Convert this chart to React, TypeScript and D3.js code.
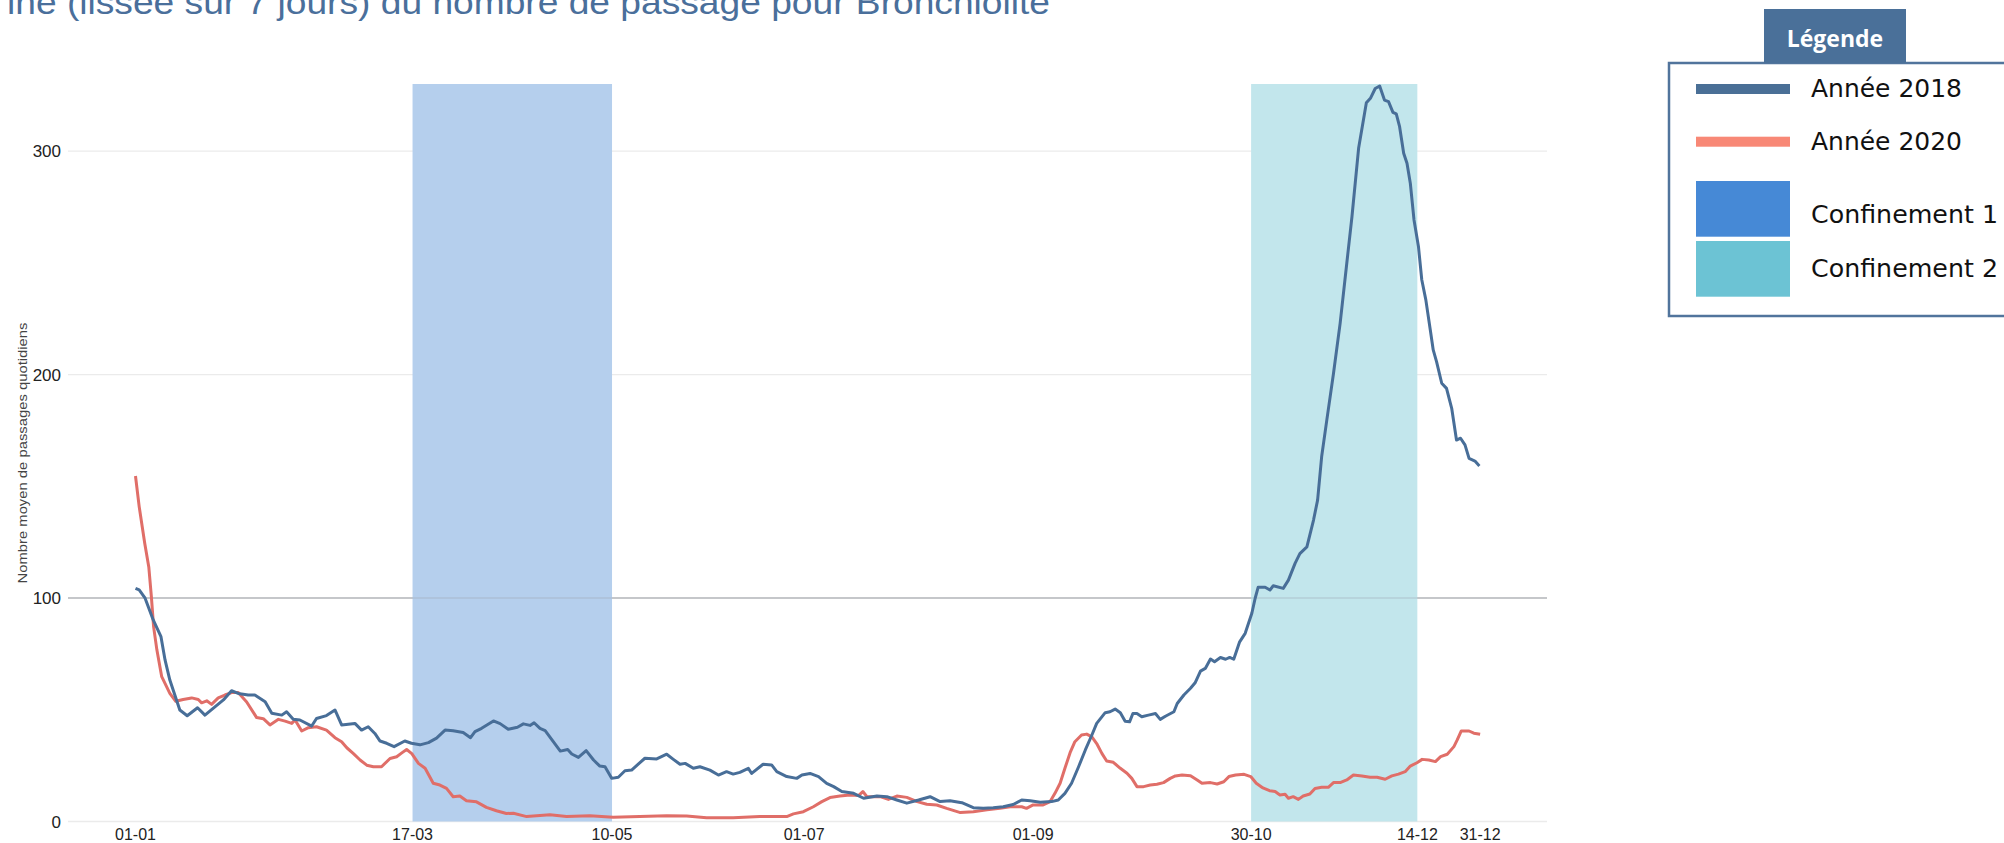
import React from "react";
import * as d3 from "d3";

// ---- data (day of year, 0 = 01-01) ----
const tickDays = [0, 75, 129, 181, 243, 302, 347, 364];
const tickLabels = ["01-01", "17-03", "10-05", "01-07", "01-09", "30-10", "14-12", "31-12"];
const yTicks = [0, 100, 200, 300];

const confinementNames = ["Confinement 1", "Confinement 2"];
const confinementStart = [75, 302];
const confinementEnd = [129, 347];

const days2018 = [
  0, 1, 2.6, 4.8, 6.9, 8, 9.3, 11.1, 12, 14, 16.8, 18.8, 21.5, 23.8, 26, 27.8, 30.5, 32.3, 35.1, 36.9,
  39.6, 40.9, 42.7, 44.5, 47.7, 49, 51.7, 54, 55.8, 59.4, 61.2, 63, 64.8, 66.2, 68, 70, 72.9, 74.7, 77,
  79.3, 81.5, 83.8, 86, 88.7, 90.7, 91.9, 93.7, 96.9, 98.7, 100.9, 103.4, 105, 106.8, 107.9, 109.5,
  110.9, 113.1, 115, 117, 118.1, 119.9, 122, 124, 125.7, 127.1, 128.9, 130.7, 132.5, 134.3, 136.1,
  137.9, 141.1, 143.8, 145.6, 147.4, 148.8, 151, 152.8, 155.5, 157.8, 160, 161.8, 163.6, 165.9, 166.8,
  169.9, 172.2, 173.6, 176.3, 179, 180.4, 182.6, 184.9, 187.1, 189, 191.2, 194.4, 197.1, 200.7, 203.4,
  206.1, 208.8, 212, 215.1, 217.8, 220.5, 223.7, 226.8, 229.5, 232.2, 234.9, 237.6, 239.9, 242.2, 244.9,
  248, 249.8, 251.6, 253.4, 255.3, 257.1, 258.9, 260.2, 262.5, 263.8, 265.2, 266.6, 267.9, 269.1, 270,
  271.1, 272.4, 274.2, 276.1, 277.4, 278.8, 281.1, 282, 283.8, 285.6, 286.9, 288.3, 289.6, 291, 292.1,
  293.7, 295.1, 296.2, 297.3, 298.9, 300.4, 302.2, 303.1, 303.9, 305.8, 307.1, 308, 310.7, 312.1, 313.9,
  315.2, 317.1, 318.9, 320, 321.1, 322.5, 324.3, 326.1, 327.9, 329.3, 331.1, 333.2, 334.3, 335.6, 336.8,
  338.1, 339.2, 340.4, 341.3, 342.2, 343.3, 344.2, 345.1, 346.1, 347.3, 348.2, 349.3, 350.5, 351.3,
  352.2, 353.6, 354.9, 356.3, 357.6, 358.7, 359.9, 361, 362.6, 363.8,
];
const values2018 = [
  104.3, 103.6, 99.9, 90.2, 82.7, 72.3, 63.3, 54.4, 49.9, 47.3, 50.9, 47.6, 51.3, 54.4, 58.5, 57.3, 56.6,
  56.6, 53.6, 48.4, 47.6, 49.1, 45.8, 45.4, 42.7, 46.1, 47.4, 49.9, 43.2, 43.9, 40.9, 42.4, 39.4, 36,
  35, 33.5, 36, 35, 34.3, 35.3, 37.3, 40.9, 40.6, 39.8, 37.5, 40.2, 41.7, 45, 43.8, 41.3, 42.2, 43.7, 43,
  44.2, 41.7, 40.7, 35.7, 31.5, 32.2, 30.2, 28.7, 31.7, 27.5, 24.8, 24.5, 19.3, 19.8, 22.7, 23, 25.7,
  28.3, 28, 30.1, 27.8, 25.6, 26, 23.8, 24.5, 23, 20.8, 22.3, 21.2, 22, 23.8, 21.5, 25.6, 25.3, 22.3,
  20.1, 19.3, 20.8, 21.5, 20.1, 17.1, 15.6, 13.4, 12.6, 10.4, 11.4, 11.1, 9.6, 8.2, 9.6, 11.1, 8.9, 9.3,
  8.4, 6.2, 5.9, 6.2, 6.6, 7.6, 9.6, 9.3, 8.6, 8.9, 9.6, 12.6, 17.1, 24.5, 31.9, 38.7, 43.9, 48.7, 49.1,
  50.3, 48.7, 44.9, 44.6, 48.3, 48.3, 46.9, 47.6, 48.3, 45.7, 47.1, 49.1, 52.8, 56.6, 59.6, 62.2, 67.3,
  68.5, 72.7, 71.5, 73.4, 72.6, 73.4, 72.6, 80.4, 84.2, 93.2, 99.9, 104.8, 104.8, 103.6, 105.5, 104.3,
  108, 115.5, 119.9, 122.9, 134.9, 143.8, 163.3, 179.7, 200.5, 222.9, 249.8, 270.6, 301.2, 321.6, 323.6,
  328, 329.1, 322.8, 322.1, 317.3, 316.6, 310.9, 299, 294.5, 285.6, 269.2, 257.3, 242.4, 233.4, 220,
  211, 205.8, 196.1, 193.8, 184.9, 170.7, 171.5, 168.5, 162.5, 161.3, 159.1,
];

const days2020 = [
  0, 1, 2.5, 3.6, 4.3, 4.9, 5.8, 7.1, 9.3, 10.9, 12.9, 15.2, 17, 17.9, 19.3, 20.6, 22.4, 24.2, 26, 27.8,
  30.1, 32.8, 34.6, 36.4, 38.7, 40.5, 42.3, 43.2, 45, 46.8, 49, 51.7, 54, 55.8, 57.2, 59, 60.8, 62.6,
  64.4, 66.6, 68.9, 70.7, 72.1, 73.4, 74.8, 76.6, 78.4, 80.6, 82.4, 84.2, 86, 87.8, 89.6, 92.3, 95, 97.7,
  100.4, 102.3, 105.9, 112.2, 116.7, 123, 129.3, 136.5, 143.8, 149.2, 154.6, 161.8, 169, 176.3, 178.1,
  180.8, 183.5, 185.8, 188, 190.7, 193.4, 195.7, 196.9, 198, 201.6, 203.8, 206.1, 208.8, 211.6, 214.2,
  216.9, 219.6, 223.3, 226.8, 230.5, 234, 236.8, 239.9, 241.2, 243, 245.7, 247.6, 248.9, 250.3, 251.6,
  253, 254.3, 256.1, 257.5, 258.9, 260.2, 261.6, 262.9, 264.7, 266.6, 268.4, 269.7, 271.1, 272.9, 274.7,
  276.5, 278.3, 280.1, 281.5, 283.3, 285.6, 287.4, 288.7, 291, 292.8, 294.6, 296, 297.8, 300.1, 301.9,
  303.4, 305.2, 307, 308.5, 309.8, 311.2, 312.1, 313.4, 314.8, 316.1, 317.9, 319.3, 321.1, 322.9, 324.3,
  326.1, 327.9, 329.7, 332, 334.2, 336.1, 338.3, 340.1, 341.9, 343.7, 345.1, 346.9, 348.3, 350.1, 351.9,
  353.3, 355.1, 356.9, 357.8, 358.9, 361, 362.3, 364,
];
const values2020 = [
  154.6, 140.9, 124.5, 113.9, 100.6, 87.2, 76.7, 64.8, 57.3, 53.8, 54.6, 55.3, 54.6, 53.1, 54, 52.4, 55.3,
  56.6, 57.7, 57.7, 53.5, 46.5, 46, 43.2, 45.7, 44.9, 43.9, 45.4, 40.5, 42, 42.4, 40.9, 37.5, 35.7, 33,
  30.4, 27.5, 25.2, 24.5, 24.5, 28.2, 29, 30.7, 32.2, 30.4, 26, 23.8, 17.1, 16.3, 14.8, 11.1, 11.4, 9.3,
  8.8, 6.3, 4.8, 3.6, 3.7, 2.2, 3, 2.2, 2.6, 1.9, 2.2, 2.6, 2.5, 1.7, 1.7, 2.2, 2.2, 3.4, 4.4, 6.6, 8.9,
  10.7, 11.4, 11.9, 11.6, 13.4, 11.1, 11.1, 9.9, 11.4, 10.8, 8.9, 7.7, 7.4, 5.9, 4, 4.4, 5.2, 5.9, 6.6,
  6.6, 5.9, 7.4, 7.4, 8.9, 12.6, 17.1, 23.8, 30.8, 35.7, 38.7, 39.1, 37.9, 34.9, 30.5, 27.1, 26.5, 23.8,
  21.6, 19.3, 15.6, 15.6, 16.3, 16.7, 17.4, 19.3, 20.4, 20.8, 20.5, 18.6, 17.1, 17.4, 16.8, 17.8, 20.1,
  20.8, 21.1, 20.1, 17.1, 15, 13.8, 13.4, 11.9, 12.2, 10.4, 11.1, 9.9, 11.4, 12.3, 14.8, 15.3, 15.3,
  17.4, 17.4, 18.6, 20.8, 20.4, 19.8, 19.8, 18.9, 20.4, 21.2, 22.3, 24.8, 26.3, 27.8, 27.5, 26.8, 29,
  30.1, 33.5, 36.5, 40.5, 40.5, 39.5, 39,
];

const titleText = "ine (lissée sur 7 jours) du nombre de passage pour Bronchiolite";
const yAxisTitle = "Nombre moyen de passages quotidiens";
const legendTitle = "Légende";
const seriesNames = ["Année 2018", "Année 2020"];

// ---- styles ----
const C2018 = "#486e98";
const C2020 = "#e06e68";
const CONF_FILL = ["#b5cfed", "#c2e6ec"];
const LEG_CONF = ["#4689d6", "#6cc3d4"];
const LEG_LINE = ["#4a6f96", "#f88876"];
const HEADER = "#4a7099";

export default function App() {
  const W = 2004;
  const H = 843;
  const x = d3.scaleLinear().domain([-18.27, 382.1]).range([68, 1547]);
  const y = d3.scaleLinear().domain([0, 330]).range([821.5, 84]);

  const line = d3
    .line<[number, number]>()
    .x((d) => x(d[0]))
    .y((d) => y(d[1]));

  const s2018: [number, number][] = days2018.map((d, i) => [d, values2018[i]]);
  const s2020: [number, number][] = days2020.map((d, i) => [d, values2020[i]]);

  const sans = "'Liberation Sans', Arial, sans-serif";

  return (
    <svg
      width={W}
      height={H}
      style={{ position: "absolute", left: 0, top: 0, background: "#fff" }}
    >
      <rect x={0} y={0} width={W} height={H} fill="#fff" />
      {/* title (cut at top-left) */}
      <text
        x={7}
        y={13.5}
        fontFamily={sans}
        fontSize={34}
        fill="#4a6f9b"
        textLength={1043}
        lengthAdjust="spacingAndGlyphs"
      >
        {titleText}
      </text>

      {/* gridlines */}
      {yTicks.map((t) => (
        <line
          key={"g" + t}
          x1={68}
          x2={1547}
          y1={y(t)}
          y2={y(t)}
          stroke={t === 100 ? "#c6c6c6" : "#ebebeb"}
          strokeWidth={1.3}
        />
      ))}

      {/* confinement bands */}
      {confinementNames.map((n, i) => (
        <rect
          key={n}
          x={x(confinementStart[i])}
          y={y(330)}
          width={x(confinementEnd[i]) - x(confinementStart[i])}
          height={y(0) - y(330)}
          fill={CONF_FILL[i]}
        />
      ))}
      {/* the 100 line stays visible through bands */}
      <line x1={68} x2={1547} y1={y(100)} y2={y(100)} stroke="#9aa3ad" strokeOpacity={0.35} strokeWidth={1.3} />

      {/* lines */}
      <path d={line(s2020) || ""} fill="none" stroke={C2020} strokeWidth={3} strokeLinejoin="round" />
      <path d={line(s2018) || ""} fill="none" stroke={C2018} strokeWidth={3} strokeLinejoin="round" />

      {/* y axis labels */}
      {yTicks.map((t) => (
        <text
          key={"yl" + t}
          x={61}
          y={y(t) + 6}
          textAnchor="end"
          fontFamily={sans}
          fontSize={17}
          fill="#222"
        >
          {t}
        </text>
      ))}
      <text
        transform={`translate(27,453) rotate(-90)`}
        textAnchor="middle"
        fontFamily={sans}
        fontSize={12.5}
        fill="#444"
        textLength={261}
        lengthAdjust="spacingAndGlyphs"
      >
        {yAxisTitle}
      </text>

      {/* x axis labels */}
      {tickDays.map((d, i) => (
        <text
          key={"xl" + i}
          x={x(d)}
          y={840}
          textAnchor="middle"
          fontFamily={sans}
          fontSize={16}
          fill="#222"
        >
          {tickLabels[i]}
        </text>
      ))}

      {/* legend */}
      <rect x={1669} y={63} width={360} height={253} fill="#fff" stroke="#51749c" strokeWidth={2.5} />
      <rect x={1764} y={9} width={142} height={54} fill={HEADER} />
      <text
        x={1835}
        y={46.5}
        textAnchor="middle"
        fontFamily="'Open Sans', sans-serif"
        fontWeight="bold"
        fontSize={23}
        fill="#fff"
      >
        {legendTitle}
      </text>
      {seriesNames.map((n, i) => (
        <g key={n}>
          <rect x={1696} y={84 + i * 52.7} width={94} height={10} fill={LEG_LINE[i]} />
          <text
            x={1811}
            y={97 + i * 53}
            fontFamily="'DejaVu Sans', sans-serif"
            fontSize={25}
            fill="#111"
            textLength={151}
            lengthAdjust="spacingAndGlyphs"
          >
            {n}
          </text>
        </g>
      ))}
      {confinementNames.map((n, i) => (
        <g key={"l" + n}>
          <rect x={1696} y={181 + i * 60} width={94} height={55.7} fill={LEG_CONF[i]} />
          <text
            x={1811}
            y={222.7 + i * 54.3}
            fontFamily="'DejaVu Sans', sans-serif"
            fontSize={25}
            fill="#111"
            textLength={187}
            lengthAdjust="spacingAndGlyphs"
          >
            {n}
          </text>
        </g>
      ))}
    </svg>
  );
}
